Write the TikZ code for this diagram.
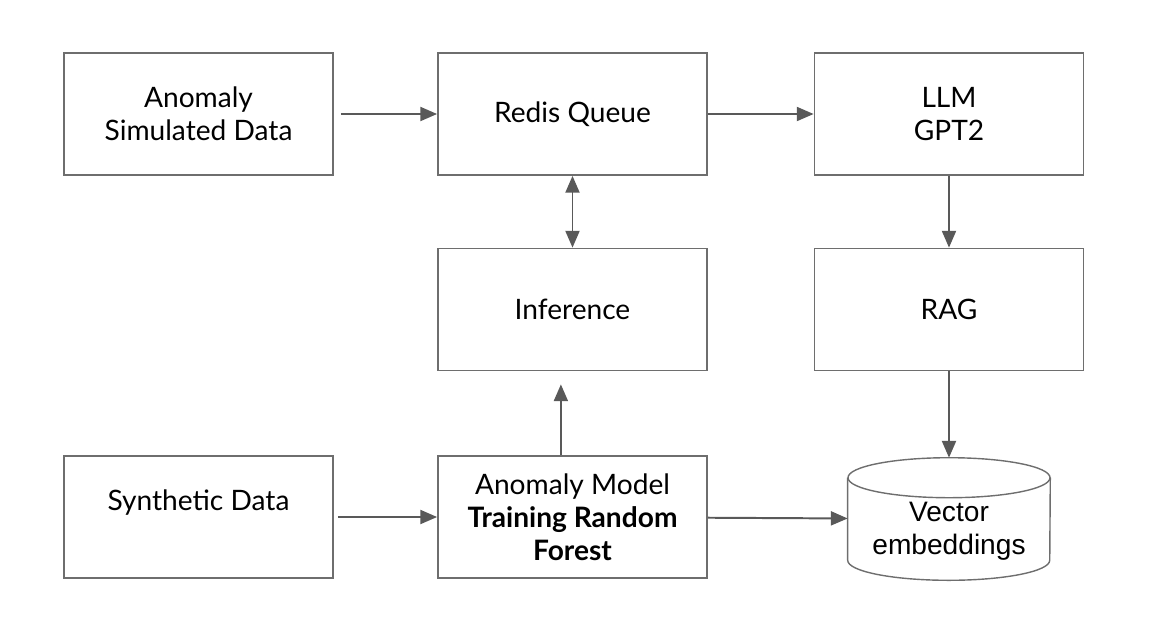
\documentclass[tikz,border=0pt]{standalone}
\usepackage{fontspec}
\setmainfont{Lato}
\newfontfamily\arialfont{Liberation Sans}
\usetikzlibrary{positioning,arrows.meta}
\definecolor{linegray}{HTML}{595959}
\definecolor{boxgray}{HTML}{6E6E6E}
\tikzset{
    block/.style = {
        draw=boxgray,
        shape=rectangle,
        minimum width=6.725cm,
        minimum height=3.05cm,
        line width=1.2pt,
        align=center,
        font=\fontsize{20}{23.5}\selectfont
    },
    store/.style = {
        shape=rectangle,
        minimum width=5.05cm,
        minimum height=3.05cm
    },
    storetext/.style = {
        align=center,
        yshift=-0.3cm,
        font=\arialfont\fontsize{20}{23.5}\selectfont
    },
    storeline/.style = {
        draw=boxgray,
        line width=1pt
    },
    flow/.style = {
        draw=linegray,
        line width=1.4pt,
        -{Triangle[length=12pt,width=10pt]}
    },
}

\begin{document}
\begin{tikzpicture}[x=0.025cm, y=-0.025cm]
    \useasboundingbox (0,0) rectangle (1160,634);

    \node[block] (simdata) at (198.5,114) {Anomaly\\Simulated Data};
    \node[block] (queue) at (572.5,114) {Redis Queue};
    \node[block] (llm) at (949,114) {LLM\\GPT2};
    \node[block] (infer) at (572.5,309.5) {Inference};
    \node[block] (rag) at (949,309.5) {RAG};
    \node[block] (synth) at (198.5,517) {Synthetic Data\\\mbox{}};
    \node[block] (model) at (572.5,517) {Anomaly Model\\\textbf{Training Random}\\\textbf{Forest}};
    \node[store, label={[storetext]center:{Vector\\embeddings}}] (vector) at (949,519) {};

    % cylinder outline
    \path[storeline] ([yshift=-0.5cm]vector.north west) -- ([yshift=0.5cm]vector.south west)
        arc[start angle=180, end angle=360, x radius=2.525cm, y radius=0.5cm]
        -- ([yshift=-0.5cm]vector.north east);
    \path[storeline] ([yshift=-0.5cm]vector.north) ellipse[x radius=2.525cm, y radius=0.5cm];

    \path[flow, shorten <=0.175cm] (simdata) -- (queue);
    \path[flow] (queue) -- (llm);
    \path[flow, {Triangle[length=12pt,width=10pt]}-{Triangle[length=12pt,width=10pt]}] (queue) -- (infer);
    \path[flow] (llm) -- (rag);
    \path[flow, shorten >=0.325cm] ([xshift=-0.29cm]model.north) -- ([xshift=-0.29cm]infer.south);
    \path[flow] (rag) -- (vector);
    \path[flow, shorten <=0.1cm] (synth) -- (model);
    \path[flow] (model) -- (vector);
\end{tikzpicture}
\end{document}
